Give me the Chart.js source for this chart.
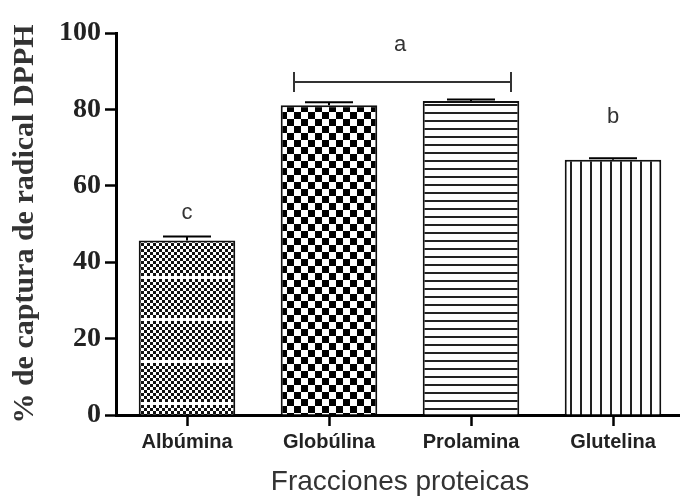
<!DOCTYPE html>
<html><head><meta charset="utf-8">
<script src="https://cdn.jsdelivr.net/npm/chart.js@4.4.1/dist/chart.umd.min.js"></script>
<style>
html,body{margin:0;padding:0;background:#fff;overflow:hidden;width:680px;height:496px}
#wrap{width:686px;height:496px;position:relative}
</style></head>
<body><div id="wrap"><canvas id="c"></canvas></div>
<script>
// ---- data ----
const categories = ['Albúmina', 'Globúlina', 'Prolamina', 'Glutelina'];
const values = [45.7, 81.1, 82.2, 66.8];
const errors = [1.0, 0.8, 0.4, 0.4];
const yTicks = [0, 20, 40, 60, 80, 100];
const sigLabels = ['c', 'a', 'b'];
const sigFrom = [0, 1, 3];
const sigTo = [0, 2, 3];
const sigTextLevel = [53, 97, 78];
const sigBracketLevel = [null, 87.2, null];
const xTitle = 'Fracciones proteicas';
const yTitle = '% de captura de radical DPPH';

// ---- patterns ----
function makeTile(w, h, draw) {
  const c = document.createElement('canvas');
  c.width = w; c.height = h;
  const g = c.getContext('2d');
  g.fillStyle = '#fff'; g.fillRect(0, 0, w, h);
  draw(g);
  return document.getElementById('c').getContext('2d').createPattern(c, 'repeat');
}
const patFine = makeTile(6, 42, g => {
  g.fillStyle = '#111';
  for (let y = 0; y < 42; y += 3) for (let x = 0; x < 6; x += 3)
    if (((x / 3) + (y / 3)) % 2 === 0) g.fillRect(x, y, 3, 3);
  g.fillStyle = '#fff'; g.fillRect(0, 24, 6, 3);
});
const patCoarse = makeTile(14, 14, g => {
  g.fillStyle = '#000';
  g.fillRect(0, 0, 7, 7); g.fillRect(7, 7, 7, 7);
});
const patHoriz = makeTile(8, 8, g => {
  g.fillStyle = '#222'; g.fillRect(0, 0, 8, 2);
});
const patVert = makeTile(10, 10, g => {
  g.fillStyle = '#222'; g.fillRect(0, 0, 2, 10);
});

const annot = {
  id: 'annot',
  afterDatasetsDraw(chart) {
    const ctx = chart.ctx, xs = chart.scales.x, ys = chart.scales.y;
    const meta = chart.getDatasetMeta(0);
    ctx.save();
    ctx.strokeStyle = '#000'; ctx.lineWidth = 2;
    values.forEach((v, i) => {
      const x = meta.data[i].x;
      const y0 = ys.getPixelForValue(v), y1 = ys.getPixelForValue(v + errors[i]);
      ctx.beginPath();
      ctx.moveTo(x, y0); ctx.lineTo(x, y1);
      ctx.moveTo(x - 24, y1); ctx.lineTo(x + 24, y1);
      ctx.stroke();
    });
    ctx.fillStyle = '#333';
    ctx.font = '22px "Liberation Sans", Arial, sans-serif';
    ctx.textAlign = 'center'; ctx.textBaseline = 'middle';
    sigLabels.forEach((t, k) => {
      const xa = meta.data[sigFrom[k]].x, xb = meta.data[sigTo[k]].x;
      const yt = ys.getPixelForValue(sigTextLevel[k]);
      ctx.fillText(t, (xa + xb) / 2, yt);
      if (sigBracketLevel[k] !== null) {
        const yb = ys.getPixelForValue(sigBracketLevel[k]);
        const l = xa - 35, r = xb + 40;
        ctx.strokeStyle = '#333'; ctx.lineWidth = 2;
        ctx.beginPath();
        ctx.moveTo(l, yb); ctx.lineTo(r, yb);
        ctx.moveTo(l, yb - 10); ctx.lineTo(l, yb + 10);
        ctx.moveTo(r, yb - 10); ctx.lineTo(r, yb + 10);
        ctx.stroke();
      }
    });
    ctx.restore();
  }
};

new Chart(document.getElementById('c'), {
  type: 'bar',
  data: {
    labels: categories,
    datasets: [{
      data: values,
      backgroundColor: [patFine, patCoarse, patHoriz, patVert],
      borderColor: '#111',
      borderWidth: 2,
      barPercentage: 0.68,
      categoryPercentage: 1
    }]
  },
  options: {
    responsive: true,
    maintainAspectRatio: false,
    animation: false,
    layout: { padding: { left: 0, right: 2, top: 33, bottom: 0 } },
    plugins: { legend: { display: false }, tooltip: { enabled: false } },
    scales: {
      x: {
        offset: true,
        border: { display: true, color: '#000', width: 3 },
        grid: { offset: false, drawOnChartArea: false, drawTicks: true, tickLength: 11, tickWidth: 2.5, color: '#000' },
        ticks: { color: '#222', padding: 4, font: { family: '"Liberation Sans", Arial, sans-serif', size: 20, weight: 'bold' } },
        title: { display: true, text: xTitle, color: '#333', padding: { top: 4, bottom: -3 },
          font: { family: '"Liberation Sans", Arial, sans-serif', size: 28 } },
        afterFit(s) { s.height = 81; }
      },
      y: {
        min: 0, max: 100,
        border: { display: true, color: '#000', width: 3 },
        grid: { drawOnChartArea: false, drawTicks: true, tickLength: 11, tickWidth: 2.5, color: '#000' },
        afterBuildTicks(s) { s.ticks = yTicks.map(v => ({ value: v })); },
        ticks: { color: '#222', padding: 4, font: { family: '"Liberation Serif", "Times New Roman", serif', size: 28, weight: 'bold' } },
        title: { display: true, text: yTitle, color: '#333', padding: { top: 7, bottom: 0 },
          font: { family: '"Liberation Serif", "Times New Roman", serif', size: 30, weight: 'bold' } },
        afterFit(s) { s.width = 116; }
      }
    }
  },
  plugins: [annot]
});
</script>
</body></html>
